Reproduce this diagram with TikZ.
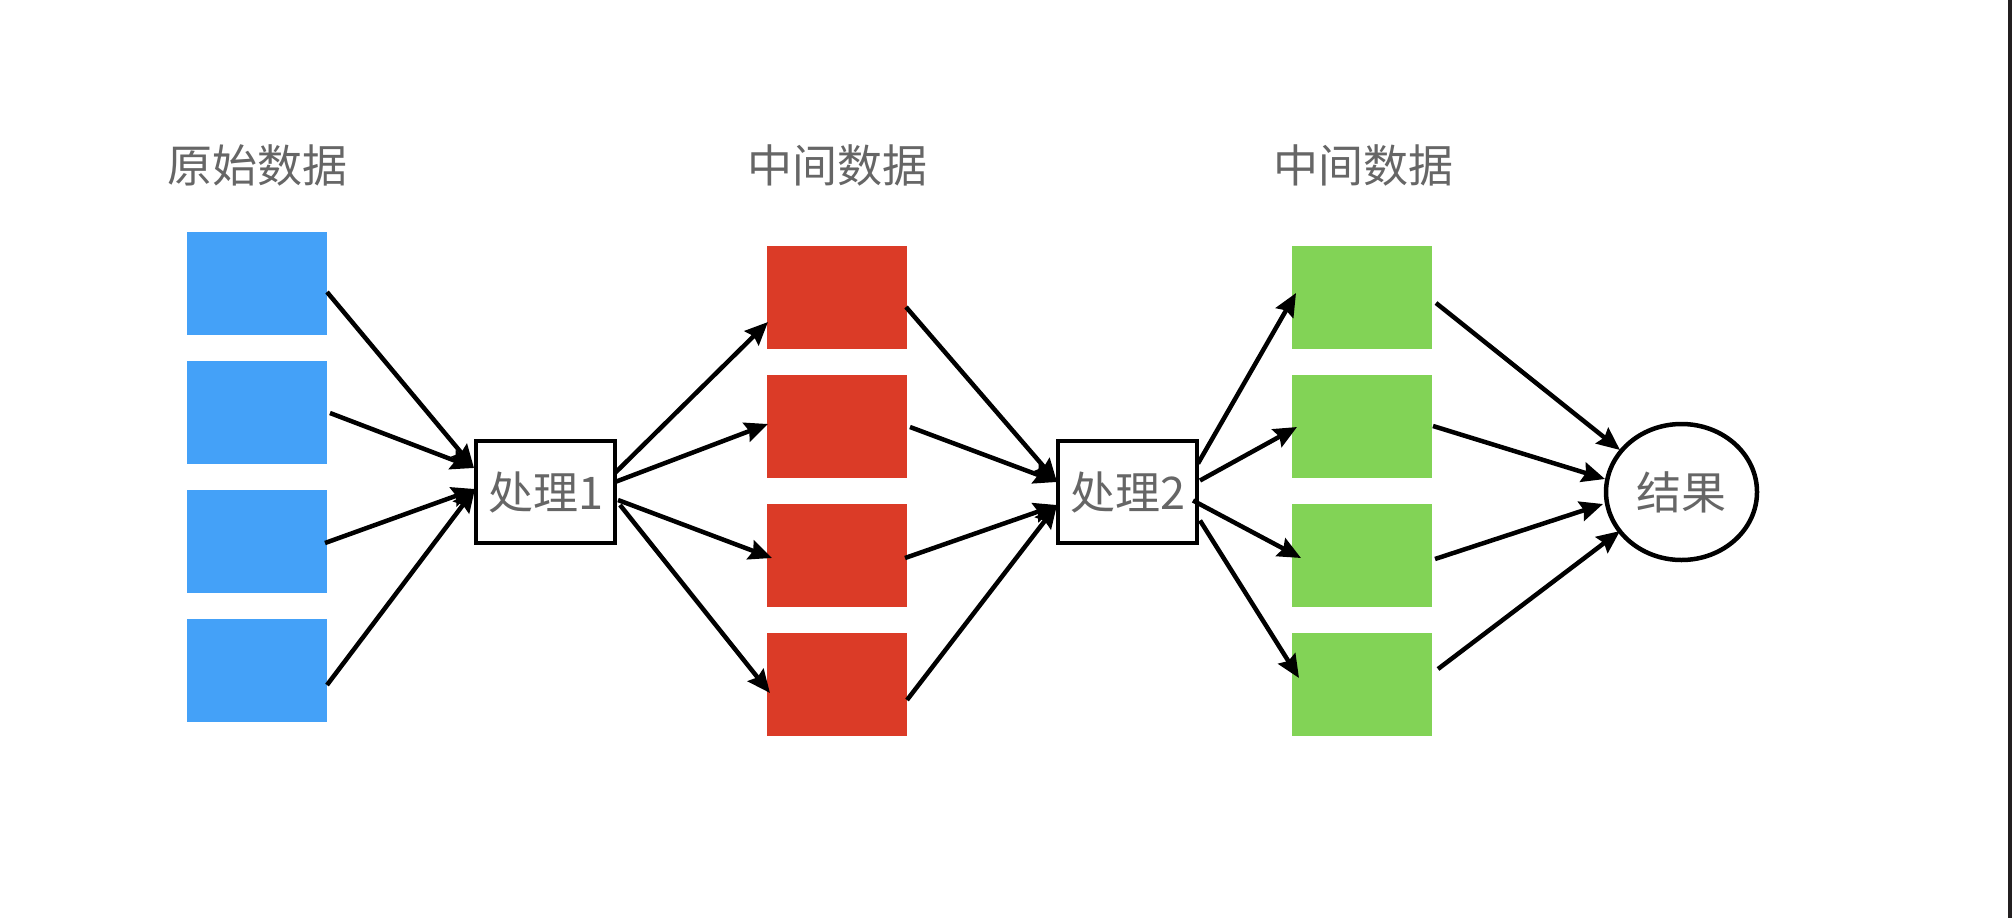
\documentclass[tikz,border=0pt]{standalone}
\usepackage{fontspec}
\newfontfamily\cjk{Noto Sans CJK SC}
\usetikzlibrary{arrows.meta,shapes.geometric,calc}
\definecolor{cblue}{HTML}{44A1F8}
\definecolor{cred}{HTML}{DB3B27}
\definecolor{cgreen}{HTML}{82D356}
\definecolor{ctext}{HTML}{666666}
\definecolor{cedge}{HTML}{231F20}
\tikzset{
  databox/.style={rectangle, draw=none, minimum width=140pt, minimum height=103pt, inner sep=0pt, outer sep=0pt},
  procbox/.style={rectangle, draw=black, line width=4.5pt, fill=white, minimum width=139pt, minimum height=102pt, inner sep=0pt, outer sep=0pt, text=ctext, font=\cjk\fontsize{45}{52}\selectfont},
  resnode/.style={ellipse, draw=black, line width=4.5pt, fill=white, minimum width=151pt, minimum height=136pt, inner sep=0pt, outer sep=0pt, text=ctext, font=\cjk\fontsize{45}{52}\selectfont},
  title/.style={text=ctext, font=\cjk\fontsize{45}{52}\selectfont, inner sep=0pt},
  conn/.style={draw=black, line width=4.5pt, -{Stealth[length=23pt, width=20pt, inset=3pt]}}
}
\begin{document}
\begin{tikzpicture}[x=1pt, y=-1pt]
\useasboundingbox (0,0) rectangle (2012,918);
\fill[white] (0,0) rectangle (2012,918);
\fill[cedge] (2008,0) rectangle (2012,918);

% titles
\node[title] (t1) at (257,165) {原始数据};
\node[title] (t2) at (837,165) {中间数据};
\node[title] (t3) at (1363,165) {中间数据};

% data boxes
\foreach \i/\y in {1/283,2/412,3/541,4/670} {
  \node[databox, fill=cblue] (b\i) at (257,\y) {};
}
\foreach \i/\y in {1/297.5,2/426.5,3/555.5,4/684.5} {
  \node[databox, fill=cred] (r\i) at (837,\y) {};
  \node[databox, fill=cgreen] (g\i) at (1362,\y) {};
}

% process nodes
\node[procbox] (p1) at (545.5,492) {处理1};
\node[procbox] (p2) at (1127.5,492) {处理2};
\node[resnode] (res) at (1681.5,492) {结果};

% blue -> p1
\draw[conn] ($(b1.east)+(0,9)$) -- ($(p1.west)+(-2,-24)$);
\draw[conn] ($(b2.east)+(3,1)$) -- ($(p1.west)+(-2,-24)$);
\draw[conn] ($(b3.east)+(-2,2)$) -- ($(p1.west)+(-1,-3)$);
\draw[conn] ($(b4.east)+(0,15)$) -- ($(p1.west)+(-1,-3)$);

% p1 -> red
\draw[conn] ($(p1.east)+(0,-19)$) -- ($(r1.west)+(1,24.5)$);
\draw[conn] ($(p1.east)+(0,-10)$) -- ($(r2.west)+(1,-2.5)$);
\draw[conn] ($(p1.east)+(3,8)$) -- ($(r3.west)+(5,2.5)$);
\draw[conn] ($(p1.east)+(5,13)$) -- ($(r4.west)+(3,8.5)$);

% red -> p2
\draw[conn] ($(r1.east)+(-1,9.5)$) -- ($(p2.west)+(-1,-10)$);
\draw[conn] ($(r2.east)+(3,0.5)$) -- ($(p2.west)+(-1,-10)$);
\draw[conn] ($(r3.east)+(-2,2.5)$) -- ($(p2.west)+(-1,13)$);
\draw[conn] ($(r4.east)+(0,15.5)$) -- ($(p2.west)+(-1,13)$);

% p2 -> green
\draw[conn] ($(p2.east)+(1,-28.5)$) -- ($(g1.west)+(4,-4.5)$);
\draw[conn] ($(p2.east)+(3,-11.5)$) -- ($(g2.west)+(5,0.5)$);
\draw[conn] ($(p2.east)+(-4,8.5)$) -- ($(g3.west)+(9,2.5)$);
\draw[conn] ($(p2.east)+(3,28.5)$) -- ($(g4.west)+(7,-6.5)$);

% green -> result
\draw[conn] ($(g1.east)+(4,5.5)$) -- ($(res.center)+(-61.5,-42)$);
\draw[conn] ($(g2.east)+(1,-0.5)$) -- ($(res.center)+(-76.5,-13)$);
\draw[conn] ($(g3.east)+(3,3.5)$) -- ($(res.center)+(-78.5,12)$);
\draw[conn] ($(g4.east)+(6,-15.5)$) -- ($(res.center)+(-61.5,39)$);
\end{tikzpicture}
\end{document}
